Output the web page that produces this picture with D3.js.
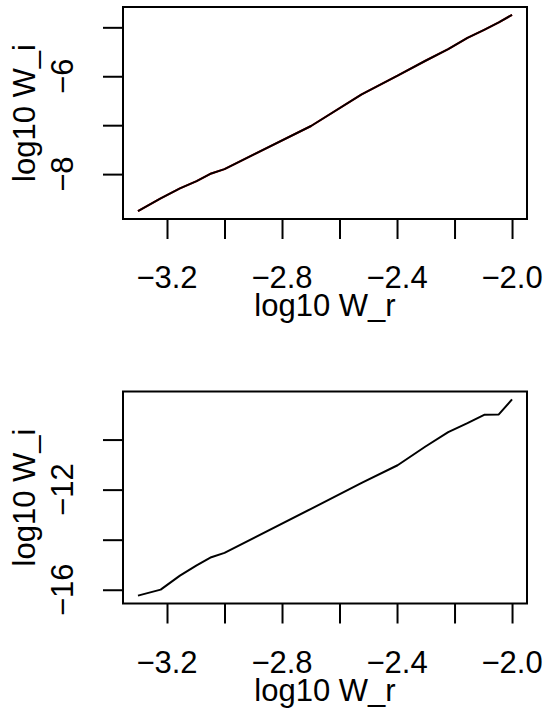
<!DOCTYPE html>
<html>
<head>
<meta charset="utf-8">
<script src="https://cdn.jsdelivr.net/npm/d3@7"></script>
<style>
  body { margin: 0; background: #fff; }
  svg { display: block; }
  text { font-family: "Liberation Sans", Arial, sans-serif; font-size: 31px; fill: #000; }
</style>
</head>
<body>
<div id="chart"></div>
<script>
// log10 of W_r (shared by both panels)
const logWr = [-3.301, -3.222, -3.155, -3.097, -3.046, -3.0, -2.699, -2.523,
  -2.398, -2.301, -2.222, -2.155, -2.097, -2.046, -2.0];

// log10 of W_i, upper panel (drawn twice: red, then black on top)
const logWiTop = [-8.757, -8.497, -8.293, -8.143, -7.986, -7.898, -7.017, -6.369,
  -5.988, -5.683, -5.447, -5.216, -5.05, -4.90, -4.745];

// log10 of W_i, lower panel
const logWiBottom = [-16.236, -15.996, -15.435, -15.03, -14.70, -14.525, -12.766, -11.727,
  -11.026, -10.277, -9.70, -9.343, -9.01, -8.994, -8.393];

// Tick values
const xTicks = [-3.2, -3.0, -2.8, -2.6, -2.4, -2.2, -2.0];
const xTickLabels = [-3.2, -2.8, -2.4, -2.0];
const yTicksTop = [-8, -7, -6, -5];
const yTickLabelsTop = [-8, -6];
const yTicksBottom = [-16, -14, -12, -10];
const yTickLabelsBottom = [-16, -12];

const W = 544, H = 711;
const box = { left: 123, right: 527, height: 212 };
const tickLen = 20;

const svg = d3.select("#chart")
  .append("svg")
    .attr("width", W)
    .attr("height", H);

svg.append("rect")
  .attr("width", W)
  .attr("height", H)
  .attr("fill", "#fff");

// R style 4% padding of the data range
const padded = (vals) => {
  const [lo, hi] = d3.extent(vals);
  const p = (hi - lo) * 0.04;
  return [lo - p, hi + p];
};

const fmtX = d3.format(".1f");
const fmtY = d3.format("d");

const drawPanel = (top, yVals, yTicks, yLabels, colors) => {
  const bottom = top + box.height;

  const x = d3.scaleLinear()
    .domain(padded(logWr))
    .range([box.left, box.right]);
  const y = d3.scaleLinear()
    .domain(padded(yVals))
    .range([bottom, top]);

  const g = svg.append("g");

  // data line(s)
  const line = d3.line()
    .x((d, i) => x(logWr[i]))
    .y(d => y(d));

  colors.forEach(c => {
    g.append("path")
      .datum(yVals)
      .attr("d", line)
      .attr("fill", "none")
      .attr("stroke", c)
      .attr("stroke-width", 2)
      .attr("stroke-linejoin", "round");
  });

  // frame
  g.append("rect")
    .attr("x", box.left)
    .attr("y", top)
    .attr("width", box.right - box.left)
    .attr("height", box.height)
    .attr("fill", "none")
    .attr("stroke", "#000")
    .attr("stroke-width", 2);

  // x axis ticks
  const xAxis = d3.axisBottom(x)
    .tickValues(xTicks)
    .tickSize(tickLen)
    .tickFormat("");
  const xg = g.append("g")
    .attr("transform", "translate(0," + bottom + ")")
    .call(xAxis);
  xg.select(".domain").remove();
  xg.selectAll(".tick line").attr("stroke-width", 2);

  g.selectAll(".xlab")
    .data(xTickLabels)
    .enter().append("text")
      .attr("class", "xlab")
      .attr("x", d => x(d))
      .attr("y", bottom + 69)
      .attr("text-anchor", "middle")
      .text(d => fmtX(d));

  g.append("text")
    .attr("x", (box.left + box.right) / 2)
    .attr("y", bottom + 97)
    .attr("text-anchor", "middle")
    .text("log10 W_r");

  // y axis ticks
  const yAxis = d3.axisLeft(y)
    .tickValues(yTicks)
    .tickSize(tickLen)
    .tickFormat("");
  const yg = g.append("g")
    .attr("transform", "translate(" + box.left + ",0)")
    .call(yAxis);
  yg.select(".domain").remove();
  yg.selectAll(".tick line").attr("stroke-width", 2);

  g.selectAll(".ylab")
    .data(yLabels)
    .enter().append("text")
      .attr("class", "ylab")
      .attr("transform", d => "translate(73," + y(d) + ") rotate(-90)")
      .attr("text-anchor", "middle")
      .text(d => fmtY(d));

  g.append("text")
    .attr("transform", "translate(35," + (top + box.height / 2) + ") rotate(-90)")
    .attr("text-anchor", "middle")
    .text("log10 W_i");
};

drawPanel(7, logWiTop, yTicksTop, yTickLabelsTop, ["#ff0000", "#000"]);
drawPanel(391.5, logWiBottom, yTicksBottom, yTickLabelsBottom, ["#000"]);
</script>
</body>
</html>
